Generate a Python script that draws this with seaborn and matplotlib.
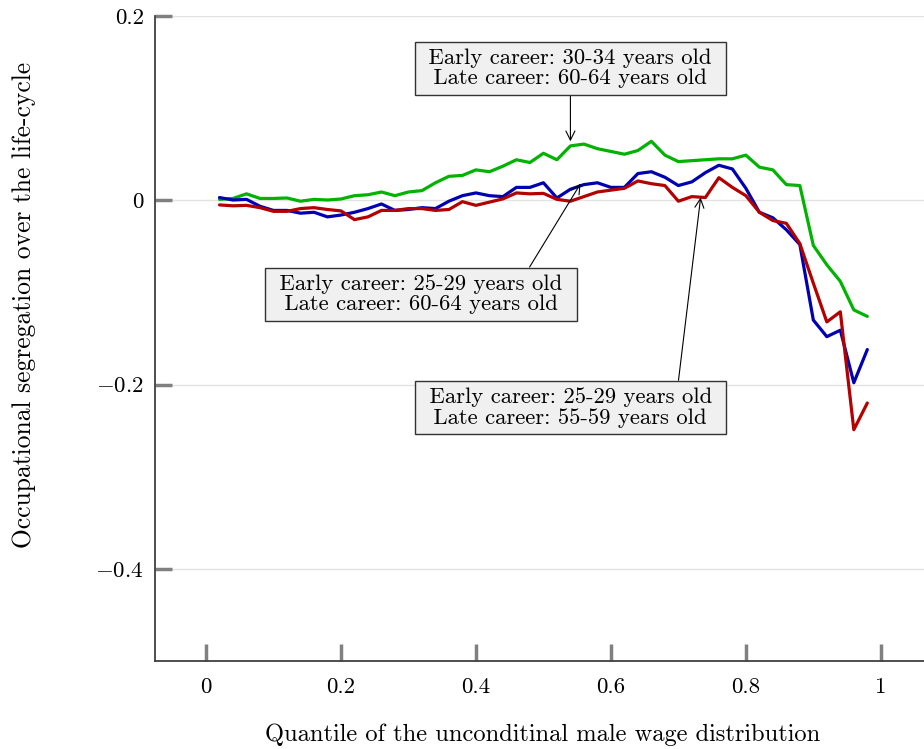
import numpy as np
import pandas as pd
import seaborn as sns
import matplotlib.pyplot as plt

# quantiles of the male wage distribution
quantiles = [round(0.02 * i, 2) for i in range(1, 50)]

# early 30-34 / late 60-64
seg_30_60 = [0.001, 0.002, 0.007, 0.002, 0.002, 0.0025, -0.001, 0.001, 0.0003, 0.0014,
             0.005, 0.006, 0.009, 0.005, 0.009, 0.0105, 0.019, 0.026, 0.027, 0.033,
             0.031, 0.037, 0.044, 0.041, 0.051, 0.044, 0.059, 0.061, 0.056, 0.053,
             0.050, 0.054, 0.064, 0.049, 0.042, 0.043, 0.044, 0.045, 0.045, 0.049,
             0.036, 0.033, 0.017, 0.016, -0.049, -0.070, -0.088, -0.119, -0.126]

# early 25-29 / late 60-64
seg_25_60 = [0.003, 0.0003, 0.001, -0.0065, -0.011, -0.011, -0.014, -0.013, -0.018, -0.016,
             -0.013, -0.009, -0.004, -0.011, -0.010, -0.008, -0.009, -0.001, 0.005, 0.008,
             0.005, 0.004, 0.014, 0.014, 0.019, 0.0025, 0.012, 0.017, 0.019, 0.014,
             0.014, 0.029, 0.031, 0.025, 0.016, 0.020, 0.030, 0.038, 0.034, 0.013,
             -0.013, -0.019, -0.032, -0.048, -0.130, -0.148, -0.141, -0.198, -0.162]

# early 25-29 / late 55-59
seg_25_55 = [-0.005, -0.006, -0.0055, -0.008, -0.012, -0.012, -0.009, -0.008, -0.010, -0.0115,
             -0.021, -0.018, -0.011, -0.011, -0.009, -0.009, -0.011, -0.010, -0.0015, -0.0055,
             -0.002, 0.0015, 0.008, 0.007, 0.0075, 0.001, -0.001, 0.004, 0.009, 0.011,
             0.013, 0.021, 0.018, 0.016, -0.001, 0.004, 0.003, 0.0245, 0.014, 0.005,
             -0.013, -0.022, -0.025, -0.047, -0.090, -0.132, -0.121, -0.249, -0.220]

series_names = ['30-34 / 60-64', '25-29 / 60-64', '25-29 / 55-59']
colors = ['#00b300', '#0000b3', '#b30000']

y_ticks = [-0.4, -0.2, 0, 0.2]
x_ticks = [0, 0.2, 0.4, 0.6, 0.8, 1]

df = pd.DataFrame({
    'q': quantiles * 3,
    'seg': seg_30_60 + seg_25_60 + seg_25_55,
    'series': np.repeat(series_names, len(quantiles)),
})

sns.set_style('white')
plt.rcParams['font.family'] = ['cmr10', 'DejaVu Serif']
plt.rcParams['mathtext.fontset'] = 'cm'
plt.rcParams['axes.formatter.use_mathtext'] = True
plt.rcParams['text.color'] = 'black'
plt.rcParams['axes.labelcolor'] = 'black'
plt.rcParams['xtick.labelcolor'] = 'black'
plt.rcParams['ytick.labelcolor'] = 'black'

fig = plt.figure(figsize=(9.24, 7.49), dpi=100)
ax = fig.add_axes([155 / 924, 1 - 661 / 749, 1 - 155 / 924, (661 - 16) / 749])

sns.lineplot(data=df, x='q', y='seg', hue='series', palette=colors,
             linewidth=2.3, legend=False, ax=ax)

ax.set_xlim(-0.0756, 1.064)
ax.set_ylim(-0.5, 0.2)
ax.set_xticks(x_ticks)
ax.set_yticks(y_ticks)
ax.set_xticklabels(['0', '0.2', '0.4', '0.6', '0.8', '1'])
ax.set_yticklabels(['$-0.4$', '$-0.2$', '0', '0.2'])
for y in y_ticks:
    ax.axhline(y, color='#e2e2e2', lw=1, zorder=0)

ax.tick_params(axis='both', direction='in', length=12, width=2.5, color='#808080',
               labelsize=16.5, labelcolor='black', bottom=True, left=True)
ax.tick_params(axis='x', pad=12)
ax.tick_params(axis='y', pad=8)
for s in ['top', 'right']:
    ax.spines[s].set_visible(False)
for s in ['left', 'bottom']:
    ax.spines[s].set_color('#404040')
    ax.spines[s].set_linewidth(1.3)

ax.set_xlabel('Quantile of the unconditinal male wage distribution', fontsize=17.6)
ax.set_ylabel('Occupational segregation over the life-cycle', fontsize=18.4)
ax.xaxis.set_label_coords(0.504, -0.097)
ax.yaxis.set_label_coords(-0.155, 0.552)

box = dict(boxstyle='square,pad=0.3', fc='#f0f0f0', ec='#333333', lw=1)
arrow = dict(arrowstyle='->', color='black', lw=0.8, shrinkA=0, shrinkB=0)
ax.annotate(' Early career: 30-34 years old \n Late career: 60-64 years old ',
            xy=(0.54, 0.064), xytext=(0.54, 0.143), ha='center', va='center',
            fontsize=16.3, bbox=box, linespacing=1.05,
            arrowprops=dict(arrow, relpos=(0.5, 0)))
ax.annotate(' Early career: 25-29 years old \n Late career: 60-64 years old ',
            xy=(0.555, 0.018), xytext=(0.3185, -0.102), ha='center', va='center',
            fontsize=16.3, bbox=box, linespacing=1.05,
            arrowprops=dict(arrow, relpos=(0.85, 1)))
ax.annotate(' Early career: 25-29 years old \n Late career: 55-59 years old ',
            xy=(0.733, 0.003), xytext=(0.54, -0.225), ha='center', va='center',
            fontsize=16.3, bbox=box, linespacing=1.05,
            arrowprops=dict(arrow, relpos=(0.86, 1)))

fig.savefig('out.png', dpi=100)
